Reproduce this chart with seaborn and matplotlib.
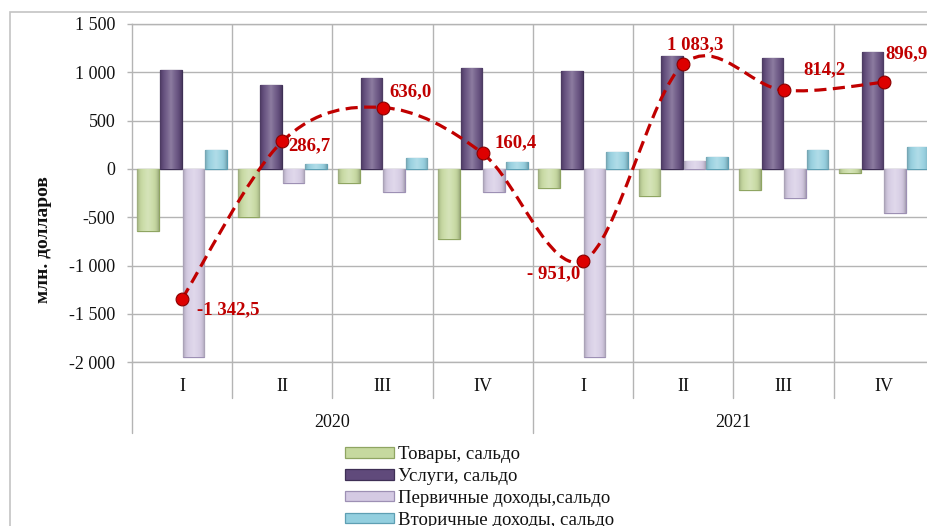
import numpy as np
import pandas as pd
import matplotlib
matplotlib.use("Agg")
import matplotlib.pyplot as plt
import seaborn as sns
from matplotlib.colors import to_rgb
from matplotlib.path import Path
from matplotlib.patches import PathPatch, Patch, Rectangle
from matplotlib.ticker import FuncFormatter, MultipleLocator

# ---- data (млн. долларов) ----
years = ["2020", "2021"]
quarters = ["I", "II", "III", "IV"]
series_names = ["Товары, сальдо", "Услуги, сальдо",
                "Первичные доходы,сальдо", "Вторичные доходы, сальдо"]
goods = [-640, -500, -140, -720, -200, -275, -215, -45]
services = [1025, 870, 940, 1045, 1017, 1165, 1150, 1210]
primary = [-1940, -140, -240, -240, -1940, 85, -300, -460]
secondary = [200, 50, 110, 75, 180, 120, 200, 225]
balance = [-1342.5, 286.7, 636.0, 160.4, -951.0, 1083.3, 814.2, 896.9]
balance_labels = ["-1 342,5", "286,7", "636,0", "160,4",
                  "- 951,0", "1 083,3", "814,2", "896,9"]

periods = [f"{y} {q}" for y in years for q in quarters]
df = pd.DataFrame({
    "period": periods * 4,
    "series": np.repeat(series_names, len(periods)),
    "value": goods + services + primary + secondary,
})

face_colors = ["#c6d99f", "#604a7b", "#d4cae3", "#93cfdf"]
edge_colors = ["#8fa562", "#3e2f55", "#9d90b4", "#5e9fb3"]
grid_color = "#b4b4b4"
red = "#c00000"

sns.set_theme(style="white")
plt.rcParams["font.family"] = ["Liberation Serif", "DejaVu Serif"]

fig = plt.figure(figsize=(9.28, 5.26), dpi=100)
W, H = 928, 526
ax = fig.add_axes([132 / W, 1 - 362.3 / H, 802 / W, (362.3 - 24) / H])

sns.barplot(data=df, x="period", y="value", hue="series", order=periods,
            hue_order=series_names, palette=face_colors, width=0.9, gap=0.04,
            errorbar=None, legend=False, ax=ax, zorder=3)


def bevel_image(color, cols=48):
    """Horizontal shading strip: lighter in the middle, darker at the sides."""
    base = np.array(to_rgb(color))
    t = np.linspace(0, 1, cols)
    d = np.abs(2 * t - 1)
    light = 0.28 * (1 - d) ** 1.5
    dark = 0.22 * d ** 5
    rgb = base[None, :] * (1 - light[:, None]) + light[:, None]
    rgb = rgb * (1 - dark[:, None])
    return rgb[None, :, :]


for cont, fc, ec in zip(ax.containers, face_colors, edge_colors):
    img = bevel_image(fc)
    for bar in cont:
        bar.set_edgecolor(ec)
        bar.set_linewidth(0.9)
        x0, y0 = bar.get_x(), bar.get_y()
        w, h = bar.get_width(), bar.get_height()
        if h == 0:
            continue
        im = ax.imshow(img, extent=[x0, x0 + w, min(y0, y0 + h), max(y0, y0 + h)],
                       aspect="auto", interpolation="bilinear", zorder=3.2)
        im.set_clip_path(bar)

n = len(periods)
ax.set_xlim(-0.5, n - 0.5)
ax.set_ylim(-2000, 1500)
ax.yaxis.set_major_locator(MultipleLocator(500))
ax.yaxis.set_major_formatter(
    FuncFormatter(lambda v, _: f"{int(round(v)):,}".replace(",", " ")))
ax.set_axisbelow(True)
ax.grid(axis="y", color=grid_color, linewidth=1.0)
for k in range(1, n):
    ax.axvline(k - 0.5, color=grid_color, linewidth=1.0, zorder=1)
for s in ax.spines.values():
    s.set_color(grid_color)
    s.set_linewidth(1.0)
ax.tick_params(axis="y", direction="out", length=3.6, width=1.0,
               color=grid_color, pad=8.5, labelsize=13, labelcolor="#111111",
               left=True)
ax.tick_params(axis="x", length=0, labelbottom=False)
ax.set_xlabel("")
ax.set_ylabel("")

# category axis: quarters, years and separators below the plot
xt = ax.get_xaxis_transform()
px = 1 / 338.3  # one pixel in axes-height fraction
for i, per in enumerate(periods):
    q = per.split()[1]
    ax.annotate(q, xy=(i, 0), xycoords=xt, xytext=(0, -24.4 * 0.72),
                textcoords="offset points", ha="center", va="center",
                fontsize=13, color="#111111", annotation_clip=False)
for j, y in enumerate(years):
    centre = j * len(quarters) + (len(quarters) - 1) / 2
    ax.annotate(y, xy=(centre, 0), xycoords=xt, xytext=(0, -60.5 * 0.72),
                textcoords="offset points", ha="center", va="center",
                fontsize=13, color="#111111", annotation_clip=False)
for k in range(n + 1):
    depth = 70.7 if k % len(quarters) == 0 else 35.4
    ax.plot([k - 0.5, k - 0.5], [0, -depth * px], transform=xt,
            color=grid_color, linewidth=1.0, clip_on=False)

# smoothed balance curve (Catmull-Rom as cubic Bezier segments)
pts = np.column_stack([np.arange(n, dtype=float), np.asarray(balance)])
verts = [tuple(pts[0])]
codes = [Path.MOVETO]
for i in range(n - 1):
    p0 = pts[max(i - 1, 0)]
    p1 = pts[i]
    p2 = pts[i + 1]
    p3 = pts[min(i + 2, n - 1)]
    c1 = p1 + (p2 - p0) / 6
    c2 = p2 - (p3 - p1) / 6
    verts += [tuple(c1), tuple(c2), tuple(p2)]
    codes += [Path.CURVE4] * 3
ax.add_patch(PathPatch(Path(verts, codes), fill=False, edgecolor=red,
                       linewidth=2.3, linestyle=(0, (3.8, 2.0)), zorder=5,
                       capstyle="butt"))
sns.scatterplot(x=np.arange(n), y=balance, s=85, color="#dd0000",
                edgecolor="#8a0000", linewidth=0.8, zorder=6, ax=ax,
                legend=False)

label_style = [  # (dx, dy in pixels, horizontal alignment)
    (15, -11, "left"), (6, -4, "left"), (7, 16, "left"), (12, 11, "left"),
    (-3, -13, "right"), (12, 20, "center"), (20, 21, "left"), (2, 29, "left"),
]
for i, (txt, (dx, dy, ha)) in enumerate(zip(balance_labels, label_style)):
    ax.annotate(txt, xy=(i, balance[i]), xytext=(dx * 0.72, dy * 0.72),
                textcoords="offset points", ha=ha, va="center",
                fontsize=13.5, fontweight="bold", color=red, zorder=7,
                annotation_clip=False)

fig.text(44 / W, 1 - 240 / H, "млн. долларов", rotation=90, ha="center",
         va="center", fontsize=14, fontweight="bold", color="#111111")

# chart frame
fig.patches.append(Rectangle((10 / W, -0.2), 1.2, (1 - 12 / H) + 0.2,
                             transform=fig.transFigure, fill=False,
                             edgecolor="#c4c4c4", linewidth=1.2))

handles = [Patch(facecolor=fc, edgecolor=ec, linewidth=0.9)
           for fc, ec in zip(face_colors, edge_colors)]
fig.legend(handles, series_names, loc="upper left",
           bbox_to_anchor=(345 / W, 1 - 446 / H), frameon=False,
           fontsize=13.5, handlelength=2.6, handleheight=0.5,
           handletextpad=0.25, labelspacing=0.26, borderpad=0,
           borderaxespad=0, labelcolor="#111111")

fig.savefig("out.png", dpi=100)
